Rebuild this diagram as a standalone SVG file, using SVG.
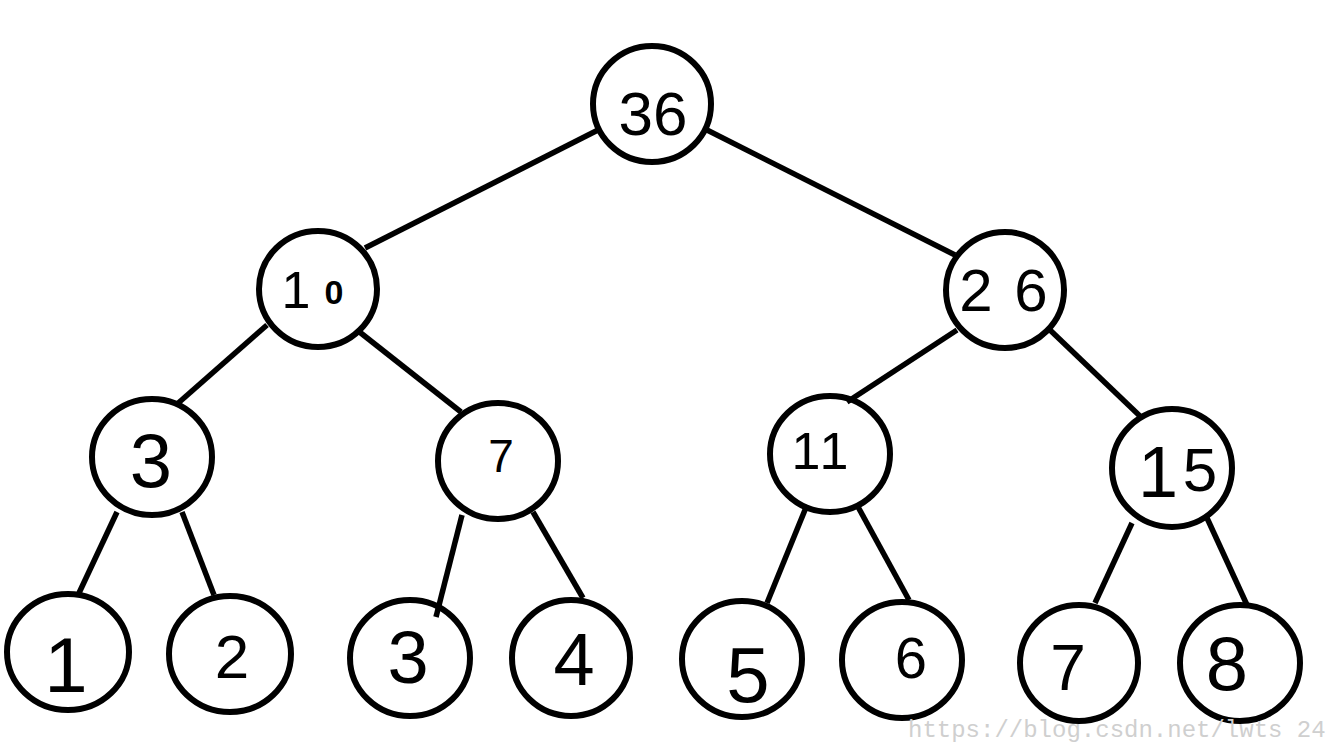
<svg xmlns="http://www.w3.org/2000/svg" width="1334" height="742" viewBox="0 0 1334 742">
<style>
.n{fill:none;stroke:#000;stroke-width:6}
.e{stroke:#000;stroke-width:5.5;stroke-linecap:butt;fill:none}
.t{font-family:"Liberation Sans",Arial,sans-serif;fill:#000;text-anchor:middle}
.w{font-family:"Liberation Mono","DejaVu Sans Mono",monospace;font-size:24px;fill:#cfcfcf}
</style>
<rect width="1334" height="742" fill="#fff"/>
<g id="edges">
<line class="e" x1="598" y1="130" x2="365" y2="248"/>
<line class="e" x1="707" y1="130" x2="955" y2="255"/>
<line class="e" x1="267" y1="325" x2="176" y2="405"/>
<line class="e" x1="357" y1="330" x2="461" y2="412"/>
<line class="e" x1="957" y1="330" x2="847" y2="402"/>
<line class="e" x1="1050" y1="330" x2="1142" y2="418"/>
<line class="e" x1="117" y1="512" x2="79" y2="593"/>
<line class="e" x1="182" y1="512" x2="214" y2="595"/>
<line class="e" x1="462" y1="515" x2="436" y2="617"/>
<line class="e" x1="533" y1="512" x2="583" y2="598"/>
<line class="e" x1="807" y1="505" x2="767" y2="603"/>
<line class="e" x1="857" y1="505" x2="909" y2="600"/>
<line class="e" x1="1132" y1="523" x2="1095" y2="603"/>
<line class="e" x1="1207" y1="518" x2="1247" y2="605"/>
</g>
<g id="n36"><ellipse class="n" cx="652" cy="104" rx="59" ry="58"/><text class="t" x="653" y="135" font-size="62">36</text></g>
<g id="n10"><ellipse class="n" cx="318" cy="289" rx="59" ry="58"/><text class="t" y="308" font-size="52"><tspan x="296">1</tspan><tspan x="334" y="304" font-size="34" font-weight="bold">0</tspan></text></g>
<g id="n26"><ellipse class="n" cx="1005" cy="290" rx="59" ry="58"/><text class="t" y="311" font-size="60"><tspan x="976">2</tspan><tspan x="1031">6</tspan></text></g>
<g id="n3"><ellipse class="n" cx="152" cy="457" rx="60" ry="58"/><text class="t" x="151" y="487" font-size="76">3</text></g>
<g id="n7"><ellipse class="n" cx="498" cy="461" rx="60" ry="58"/><text class="t" x="501" y="472" font-size="46">7</text></g>
<g id="n11"><ellipse class="n" cx="830" cy="454" rx="60" ry="58"/><text class="t" y="469" font-size="52"><tspan x="806">1</tspan><tspan x="834">1</tspan></text></g>
<g id="n15"><ellipse class="n" cx="1172" cy="468" rx="60" ry="59"/><text class="t" y="497" font-size="72"><tspan x="1158">1</tspan><tspan x="1200" y="491" font-size="62">5</tspan></text></g>
<g id="n1"><ellipse class="n" cx="68" cy="652" rx="61" ry="58"/><text class="t" x="66" y="692" font-size="78">1</text></g>
<g id="n2"><ellipse class="n" cx="230" cy="654" rx="61" ry="58"/><text class="t" x="232" y="678" font-size="62">2</text></g>
<g id="n3b"><ellipse class="n" cx="410" cy="658" rx="60" ry="58"/><text class="t" x="408" y="683" font-size="74">3</text></g>
<g id="n4"><ellipse class="n" cx="571" cy="658" rx="59" ry="58"/><text class="t" x="574" y="685" font-size="74">4</text></g>
<g id="n5"><ellipse class="n" cx="742" cy="659" rx="60" ry="58"/><text class="t" x="748" y="702" font-size="78">5</text></g>
<g id="n6"><ellipse class="n" cx="902" cy="660" rx="60" ry="58"/><text class="t" x="911" y="678" font-size="58">6</text></g>
<g id="n7b"><ellipse class="n" cx="1079" cy="663" rx="59" ry="58"/><text class="t" x="1068" y="690" font-size="64">7</text></g>
<g id="n8"><ellipse class="n" cx="1240" cy="663" rx="60" ry="58"/><text class="t" x="1227" y="690" font-size="76">8</text></g>
<text class="w" x="908" y="737">https://blog.csdn.net/lwts 24</text>
</svg>
